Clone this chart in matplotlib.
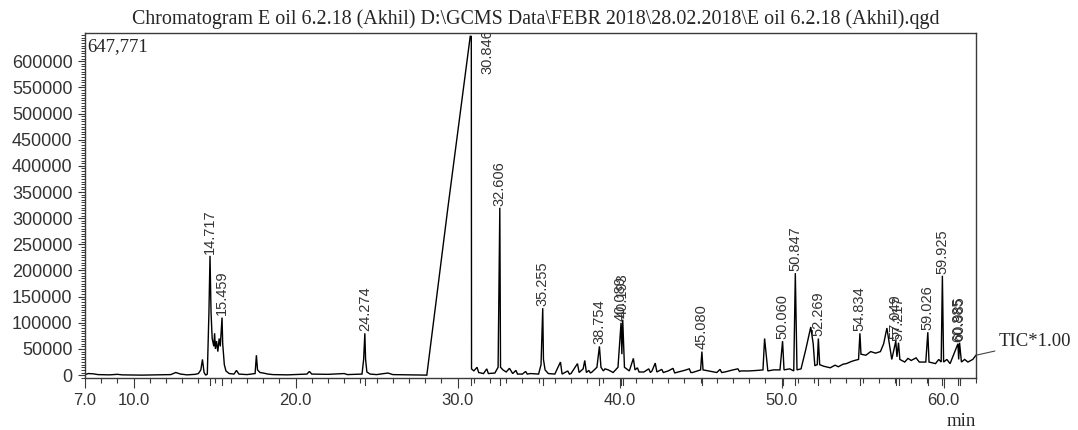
import numpy as np
import matplotlib
matplotlib.use("Agg")
import matplotlib.pyplot as plt
from matplotlib.ticker import MultipleLocator, FixedLocator

# ---------------- data ----------------
rt_min = [7.0, 7.2, 7.5, 7.8, 8.5, 9.0, 9.3, 10.5, 11.5, 12.3, 12.6, 12.9, 13.3,
          13.8, 14.0, 14.15, 14.25, 14.35, 14.45, 14.55, 14.65, 14.717, 14.78,
          14.85, 14.95, 15.0, 15.05, 15.12, 15.2, 15.28, 15.35, 15.42, 15.459,
          15.5, 15.6, 15.7, 15.9, 16.2, 16.35, 16.5, 17.0, 17.5, 17.58, 17.65,
          17.8, 18.0, 18.3, 18.6, 19.5, 20.7, 20.85, 21.0, 22.0, 23.0, 23.2,
          24.1, 24.2, 24.274, 24.32, 24.4, 24.6, 25.0, 25.7, 26.0, 27.0, 28.1,
          29.4, 30.78, 30.846, 30.86, 31.0, 31.2, 31.3, 31.6, 31.8, 31.9,
          32.3, 32.5, 32.606, 32.65, 32.8, 33.0, 33.2, 33.4, 33.6, 33.7, 34.0,
          34.2, 34.3, 34.5, 35.0, 35.15, 35.255, 35.3, 35.4, 35.6, 36.0, 36.35,
          36.45, 36.8, 36.9, 37.0, 37.4, 37.5, 37.75, 37.85, 37.95, 38.1, 38.2,
          38.3, 38.6, 38.754, 38.85, 39.0, 39.1, 39.3, 39.6, 39.9, 40.089, 40.14,
          40.193, 40.3, 40.6, 40.85, 40.95, 41.1, 41.2, 41.5, 41.8, 41.9, 42.0,
          42.2, 42.3, 42.6, 42.7, 43.0, 43.3, 43.4, 43.5, 44.0, 44.3, 44.4, 44.5,
          45.0, 45.08, 45.15, 45.5, 46.0, 46.2, 46.3, 46.5, 47.0, 47.3, 47.4,
          47.5, 48.0, 48.5, 48.85, 48.95, 49.05, 49.15, 49.5, 49.9, 50.06, 50.15,
          50.5, 50.75, 50.847, 50.95, 51.2, 51.5, 51.8, 51.95, 52.05, 52.2,
          52.269, 52.35, 52.6, 53.0, 53.3, 53.5, 53.8, 54.0, 54.3, 54.5, 54.75,
          54.834, 54.9, 55.2, 55.5, 55.8, 56.1, 56.3, 56.5, 56.65, 56.8, 57.049,
          57.12, 57.217, 57.3, 57.6, 57.8, 58.0, 58.3, 58.5, 58.9, 59.026, 59.1,
          59.5, 59.7, 59.85, 59.925, 60.0, 60.2, 60.4, 60.885, 60.93, 60.985,
          61.1, 61.3, 61.5, 61.8, 62.0]
tic = [1000, 3000, 2500, 1000, 500, 1500, 500, 0, 500, 1000, 5000, 2000, 500,
       1500, 3000, 10000, 30000, 5000, 0, 2000, 120000, 228000, 120000,
       70000, 55000, 80000, 50000, 65000, 45000, 70000, 55000, 90000, 110000,
       60000, 20000, 8000, 3000, 2000, 9000, 2000, 1000, 3000, 38000, 10000,
       5000, 4000, 2000, 1000, 500, 2000, 7000, 2000, 1500, 3000, 1000,
       2000, 30000, 80000, 30000, 6000, 2000, 1000, 4000, 1000, 500, 0,
       320000, 647771, 647771, 12000, 8000, 15000, 5000, 3000, 12000, 3000,
       4000, 15000, 320000, 15000, 10000, 6000, 13000, 3000, 9000, 2000, 2000,
       7000, 2000, 3000, 2000, 20000, 128000, 30000, 10000, 3000, 2000, 25000,
       2000, 8000, 2000, 3000, 22000, 5000, 12000, 28000, 5000, 9000, 4000,
       6000, 15000, 55000, 15000, 8000, 12000, 10000, 5000, 15000, 100000, 40000,
       106000, 15000, 8000, 32000, 10000, 14000, 6000, 6000, 12000, 5000, 8000,
       23000, 6000, 11000, 5000, 8000, 13000, 4000, 5000, 9000, 12000, 5000, 5000,
       10000, 45000, 10000, 8000, 5000, 11000, 5000, 6000, 10000, 12000, 7000,
       8000, 8000, 9000, 10000, 70000, 40000, 8000, 10000, 10000, 65000, 10000,
       12000, 8000, 195000, 10000, 12000, 50000, 92000, 60000, 18000, 20000,
       70000, 20000, 17000, 14000, 19000, 16000, 21000, 22000, 26000, 28000, 30000,
       80000, 40000, 38000, 45000, 42000, 45000, 60000, 90000, 60000, 30000, 65000,
       35000, 62000, 30000, 25000, 32000, 28000, 33000, 25000, 25000, 82000, 25000,
       22000, 30000, 25000, 190000, 25000, 30000, 22000, 60000, 30000, 62000,
       25000, 30000, 25000, 30000, 38000]

peak_labels = ["14.717", "15.459", "24.274", "30.846", "32.606", "35.255",
               "38.754", "40.089", "40.193", "45.080", "50.060", "50.847",
               "52.269", "54.834", "57.049", "57.217", "59.026", "59.925",
               "60.885", "60.985"]
peak_times = [float(s) for s in peak_labels]

x_ticks = [7.0, 10.0, 20.0, 30.0, 40.0, 50.0, 60.0]
x_tick_labels = ["7.0", "10.0", "20.0", "30.0", "40.0", "50.0", "60.0"]
y_ticks = list(range(0, 600001, 50000))

title = r"Chromatogram E oil 6.2.18 (Akhil) D:\GCMS Data\FEBR 2018\28.02.2018\E oil 6.2.18 (Akhil).qgd"
max_label = "647,771"
trace_label = "TIC*1.00"

# ---------------- figure ----------------
W, H, DPI = 1078, 430, 100
fig = plt.figure(figsize=(W / DPI, H / DPI), dpi=DPI)
ax = fig.add_axes([85 / W, 1 - 378 / H, (976 - 85) / W, (378 - 33) / H])

SERIF = "Liberation Serif"
SANS = "Liberation Sans"
INK = "#262626"

ax.plot(rt_min, tic, color="black", lw=1.0, solid_joinstyle="miter")
ax.set_xlim(7.0, 62.0)
ax.set_ylim(-5500, 654000)

for s in ax.spines.values():
    s.set_color("#3a3a3a")
    s.set_linewidth(1.0)

# ticks
ax.xaxis.set_major_locator(FixedLocator(x_ticks))
ax.set_xticklabels(x_tick_labels)
ax.xaxis.set_minor_locator(MultipleLocator(1.0))
ax.yaxis.set_major_locator(FixedLocator(y_ticks))
ax.yaxis.set_minor_locator(MultipleLocator(5000))
ax.tick_params(axis="x", which="major", direction="out", length=7.5, width=0.8,
               color="#3a3a3a", pad=3.5, labelsize=12)
ax.tick_params(axis="x", which="minor", direction="out", length=3.5, width=0.8,
               color="#3a3a3a")
ax.tick_params(axis="y", which="major", direction="out", length=5, width=0.8,
               color="#3a3a3a", pad=4, labelsize=13)
ax.tick_params(axis="y", which="minor", direction="out", length=2.8, width=0.7,
               color="#3a3a3a")
for lab in ax.get_xticklabels() + ax.get_yticklabels():
    lab.set_family(SANS)
    lab.set_color("#333333")

# peak markers below the baseline and peak labels
heights = dict(zip(rt_min, tic))
for lab, t in zip(peak_labels, peak_times):
    h = heights[t]
    ax.plot([t, t], [-5500, -19000], color="#3a3a3a", lw=0.8, clip_on=False)
    if h >= 640000:
        # label of the saturated main peak sits inside the top of the frame
        ax.text(t + 1.0, 575000, lab, rotation=90, ha="center", va="bottom",
                family=SANS, fontsize=10.5, color="#333333", clip_on=True)
    else:
        ax.annotate(lab, (t, h), xytext=(0, 1.5), textcoords="offset points",
                    rotation=90, ha="center", va="bottom",
                    family=SANS, fontsize=10.5, color="#333333")

# texts
fig.text(535.5 / W, 1 - 19 / H, title, ha="center", va="center",
         family=SERIF, fontsize=14.4, color=INK)
ax.text(0.002, 0.985, max_label, transform=ax.transAxes, ha="left", va="top",
        family=SERIF, fontsize=13.5, color=INK)
ax.annotate(trace_label, xy=(rt_min[-1], tic[-1]), xycoords="data",
            xytext=(999 / W, 1 - 342 / H), textcoords="figure fraction",
            ha="left", va="center", family=SERIF, fontsize=13.5, color=INK,
            arrowprops=dict(arrowstyle="-", color="#444444", lw=0.8,
                            shrinkA=1, shrinkB=0))
fig.text(976 / W, 1 - 421 / H, "min", ha="right", va="center",
         family=SERIF, fontsize=13.5, color=INK)

fig.savefig("out.png", dpi=DPI)
